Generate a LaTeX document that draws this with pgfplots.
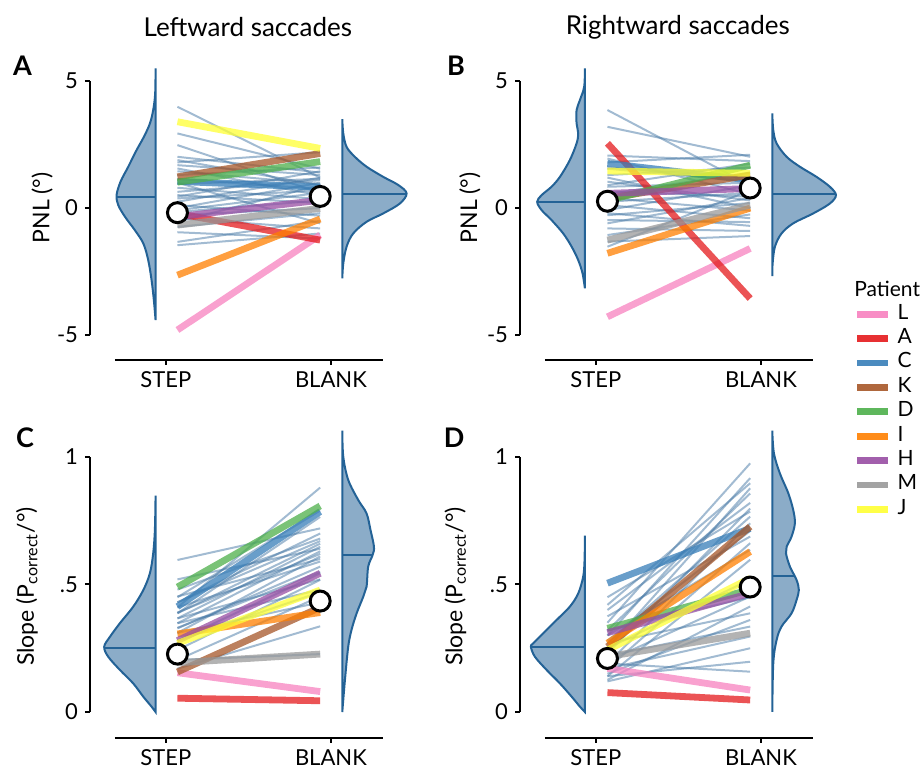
\documentclass[border=0pt]{standalone}
\usepackage{fontspec}
\setmainfont{Lato}
\usepackage{pgfplots}
\pgfplotsset{compat=1.18}
\definecolor{vfill}{RGB}{139,172,200}
\definecolor{vedge}{RGB}{35,98,150}
\definecolor{ctl}{RGB}{70,120,165}
\definecolor{cL}{HTML}{F781BF}
\definecolor{cA}{HTML}{E41A1C}
\definecolor{cC}{HTML}{377EB8}
\definecolor{cK}{HTML}{A65628}
\definecolor{cD}{HTML}{4DAF4A}
\definecolor{cI}{HTML}{FF7F00}
\definecolor{cH}{HTML}{984EA3}
\definecolor{cM}{HTML}{999999}
\definecolor{cJ}{HTML}{FFFF33}
\pgfplotsset{
 panel/.style={
   x=82.5pt, xmin=-0.46, xmax=1.5,
   axis x line=bottom, axis y line=left,
   axis line style={-, line width=1pt, black},
   x axis line style={shorten <=12.4pt, shorten >=15.3pt},
   xtick={0,1}, xticklabels={STEP,BLANK},
   tick align=outside, major tick length=2.5pt,
   tick style={black, line width=1pt},
   clip=false,
   ticklabel style={font=\fontsize{11}{13}\selectfont},
   /pgf/number format/assume math mode=true,
 },
 pnl/.style={y=12.7pt, ymin=-5.98, ymax=5.6, ytick={-5,0,5}, yticklabels={-5,0,5},
   y axis line style={shorten <=12.45pt, shorten >=7.62pt}, ylabel={PNL (°)}},
 slope/.style={y=127.5pt, ymin=-0.102, ymax=1.12, ytick={0,0.5,1}, yticklabels={0,.5,1},
   y axis line style={shorten <=13.0pt, shorten >=15.3pt}, ylabel={Slope (P\textsubscript{correct}/°)}},
 ylab/.style 2 args={every axis y label/.style={at={(axis description cs:#1,#2)}, rotate=90, anchor=center, font=\fontsize{11.5}{13}\selectfont}},
 ttl/.style={every axis title/.style={at={(axis description cs:0.488,1.132)}, anchor=center, font=\fontsize{13}{15}\selectfont}},
 tl/.style={ctl, opacity=0.5, line width=1pt, forget plot},
 pl/.style={line width=3.4pt, opacity=0.75},
 vio/.style={fill=vfill, draw=vedge, line width=1pt, smooth, tension=0.55, forget plot},
 med/.style={vedge, line width=1pt, forget plot},
 mn/.style={only marks, mark=*, mark size=5pt, mark options={fill=white, draw=black, line width=1.5pt}, forget plot},
}
\newcommand{\plet}[3]{\node[font=\bfseries\fontsize{13.5}{15}\selectfont, anchor=center] at (axis description cs:#1,#2) {#3};}
\begin{document}
\begin{tikzpicture}
\useasboundingbox (0,0) rectangle (461pt,385pt);
%%%%%%%%%%%%%%%% A
\begin{axis}[panel, pnl, ylab={-0.148}{0.517}, ttl, title={Leftward saccades}, at={(45pt,205pt)}, anchor=south west]
\addplot[tl] coordinates {(0.07,3.99) (0.935,1.20)};
\addplot[tl] coordinates {(0.07,2.94) (0.935,1.55)};
\addplot[tl] coordinates {(0.07,2.48) (0.935,0.60)};
\addplot[tl] coordinates {(0.07,2.02) (0.935,1.40)};
\addplot[tl] coordinates {(0.07,1.89) (0.935,0.90)};
\addplot[tl] coordinates {(0.07,1.69) (0.935,1.30)};
\addplot[tl] coordinates {(0.07,1.56) (0.935,0.50)};
\addplot[tl] coordinates {(0.07,1.30) (0.935,1.60)};
\addplot[tl] coordinates {(0.07,1.15) (0.935,0.75)};
\addplot[tl] coordinates {(0.07,0.95) (0.935,1.15)};
\addplot[tl] coordinates {(0.07,0.64) (0.935,1.10)};
\addplot[tl] coordinates {(0.07,0.51) (0.935,0.20)};
\addplot[tl] coordinates {(0.07,0.38) (0.935,0.70)};
\addplot[tl] coordinates {(0.07,0.25) (0.935,1.20)};
\addplot[tl] coordinates {(0.07,0.12) (0.935,-0.30)};
\addplot[tl] coordinates {(0.07,-0.08) (0.935,0.60)};
\addplot[tl] coordinates {(0.07,-0.28) (0.935,0.00)};
\addplot[tl] coordinates {(0.07,-0.54) (0.935,0.90)};
\addplot[tl] coordinates {(0.07,-0.74) (0.935,-0.20)};
\addplot[tl] coordinates {(0.07,-1.33) (0.935,-0.50)};
\addplot[tl] coordinates {(0.07,-1.46) (0.935,-1.00)};
\addplot[tl] coordinates {(0.07,0.80) (0.935,0.35)};
\addplot[tl] coordinates {(0.07,1.80) (0.935,2.20)};
\addplot[tl] coordinates {(0.07,-0.40) (0.935,-0.80)};
\addplot[tl] coordinates {(0.07,0.00) (0.935,1.00)};
\addplot[tl] coordinates {(0.07,1.00) (0.935,-0.60)};
\addplot[tl] coordinates {(0.07,0.45) (0.935,1.45)};
\addplot[tl] coordinates {(0.07,-0.15) (0.935,0.30)};
\addplot[tl] coordinates {(0.07,1.45) (0.935,0.95)};
\addplot[tl] coordinates {(0.07,-0.95) (0.935,-1.20)};
\addplot[vio] coordinates {(-0.0626,5.50) (-0.065,4.51) (-0.077,3.86) (-0.097,3.33) (-0.133,2.81) (-0.178,2.28) (-0.228,1.63) (-0.275,1.04) (-0.299,0.51) (-0.289,0.12) (-0.248,-0.34) (-0.188,-0.87) (-0.137,-1.39) (-0.107,-2.05) (-0.087,-2.83) (-0.073,-3.62) (-0.0626,-4.41)} -- cycle;
\addplot[med] coordinates {(-0.0626,0.45) (-0.298,0.45)};
\addplot[vio] coordinates {(1.069,3.50) (1.075,2.94) (1.095,2.41) (1.145,2.02) (1.216,1.63) (1.317,1.23) (1.408,0.91) (1.459,0.58) (1.418,0.18) (1.317,-0.21) (1.216,-0.54) (1.135,-1.00) (1.095,-1.52) (1.075,-2.18) (1.069,-2.77)} -- cycle;
\addplot[med] coordinates {(1.069,0.55) (1.457,0.55)};
\addplot[pl, cL] coordinates {(0.07,-4.80) (0.935,-1.06)};
\addplot[pl, cA] coordinates {(0.07,-0.21) (0.935,-1.26)};
\addplot[pl, cC] coordinates {(0.07,1.05) (0.935,0.82)};
\addplot[pl, cK] coordinates {(0.07,1.23) (0.935,2.15)};
\addplot[pl, cD] coordinates {(0.07,1.02) (0.935,1.83)};
\addplot[pl, cI] coordinates {(0.07,-2.64) (0.935,-0.43)};
\addplot[pl, cH] coordinates {(0.07,-0.34) (0.935,0.31)};
\addplot[pl, cM] coordinates {(0.07,-0.67) (0.935,-0.01)};
\addplot[pl, cJ] coordinates {(0.07,3.40) (0.935,2.35)};
\addplot[mn] coordinates {(0.07,-0.18) (0.935,0.46)};
\plet{-0.209}{0.999}{A}
\end{axis}
%%%%%%%%%%%%%%%% B
\begin{axis}[panel, pnl, ylab={-0.155}{0.517}, ttl, title={Rightward saccades}, at={(260pt,205pt)}, anchor=south west,
  legend style={draw=none, fill=none, at={(axis description cs:1.0325,0.197)}, anchor=north west, inner sep=0pt, outer sep=0pt, row sep=0pt, font=\fontsize{10.5}{12}\selectfont, nodes={inner xsep=3pt, inner ysep=0pt, text height=8.5pt, text depth=3.7pt}},
  legend cell align=left,
  legend image code/.code={\draw[#1, line width=3.4pt, opacity=0.9] (0pt,0pt) -- (15.5pt,0pt);}]
\addplot[tl] coordinates {(0.07,3.86) (0.935,0.90)};
\addplot[tl] coordinates {(0.07,3.20) (0.935,2.02)};
\addplot[tl] coordinates {(0.07,2.07) (0.935,1.85)};
\addplot[tl] coordinates {(0.07,1.95) (0.935,0.55)};
\addplot[tl] coordinates {(0.07,1.60) (0.935,1.20)};
\addplot[tl] coordinates {(0.07,1.30) (0.935,1.60)};
\addplot[tl] coordinates {(0.07,1.04) (0.935,0.30)};
\addplot[tl] coordinates {(0.07,0.84) (0.935,1.00)};
\addplot[tl] coordinates {(0.07,0.55) (0.935,1.40)};
\addplot[tl] coordinates {(0.07,0.25) (0.935,0.60)};
\addplot[tl] coordinates {(0.07,0.12) (0.935,-0.40)};
\addplot[tl] coordinates {(0.07,-0.08) (0.935,0.90)};
\addplot[tl] coordinates {(0.07,-0.28) (0.935,0.20)};
\addplot[tl] coordinates {(0.07,-0.47) (0.935,-0.55)};
\addplot[tl] coordinates {(0.07,-0.60) (0.935,0.40)};
\addplot[tl] coordinates {(0.07,-0.80) (0.935,-0.90)};
\addplot[tl] coordinates {(0.07,-1.06) (0.935,-0.25)};
\addplot[tl] coordinates {(0.07,-1.32) (0.935,-1.10)};
\addplot[tl] coordinates {(0.07,-1.52) (0.935,0.70)};
\addplot[tl] coordinates {(0.07,0.40) (0.935,-0.10)};
\addplot[tl] coordinates {(0.07,1.80) (0.935,2.10)};
\addplot[tl] coordinates {(0.07,0.90) (0.935,1.75)};
\addplot[tl] coordinates {(0.07,-0.20) (0.935,-0.70)};
\addplot[tl] coordinates {(0.07,1.20) (0.935,0.00)};
\addplot[tl] coordinates {(0.07,0.65) (0.935,0.45)};
\addplot[tl] coordinates {(0.07,1.55) (0.935,1.05)};
\addplot[vio] coordinates {(-0.0667,5.50) (-0.071,4.78) (-0.097,4.25) (-0.117,3.86) (-0.117,3.33) (-0.107,2.94) (-0.117,2.55) (-0.158,1.89) (-0.218,1.23) (-0.269,0.84) (-0.329,0.51) (-0.356,0.25) (-0.329,-0.08) (-0.269,-0.47) (-0.198,-1.00) (-0.147,-1.52) (-0.107,-2.05) (-0.081,-2.57) (-0.0667,-3.16)} -- cycle;
\addplot[med] coordinates {(-0.0667,0.24) (-0.356,0.24)};
\addplot[vio] coordinates {(1.069,3.73) (1.075,3.07) (1.095,2.55) (1.156,2.02) (1.236,1.63) (1.337,1.23) (1.418,0.84) (1.455,0.51) (1.418,0.18) (1.317,-0.21) (1.196,-0.60) (1.125,-1.00) (1.085,-1.52) (1.071,-2.18) (1.069,-2.68)} -- cycle;
\addplot[med] coordinates {(1.069,0.54) (1.455,0.54)};
\addplot[pl, cL] coordinates {(0.07,-4.28) (0.935,-1.59)};
\addplot[pl, cA] coordinates {(0.07,2.55) (0.935,-3.56)};
\addplot[pl, cC] coordinates {(0.07,1.76) (0.935,1.10)};
\addplot[pl, cK] coordinates {(0.07,0.38) (0.935,1.30)};
\addplot[pl, cD] coordinates {(0.07,0.30) (0.935,1.69)};
\addplot[pl, cI] coordinates {(0.07,-1.78) (0.935,0.00)};
\addplot[pl, cH] coordinates {(0.07,0.58) (0.935,0.77)};
\addplot[pl, cM] coordinates {(0.07,-1.26) (0.935,0.12)};
\addplot[pl, cJ] coordinates {(0.07,1.46) (0.935,1.37)};
\addplot[mn] coordinates {(0.07,0.27) (0.935,0.79)};
\legend{L,A,C,K,D,I,H,M,J}
\plet{-0.198}{0.999}{B}
\node[anchor=base west, inner sep=0pt, font=\fontsize{10.5}{12}\selectfont] at (axis description cs:1.0325,0.215) {Patient};
\end{axis}
%%%%%%%%%%%%%%%% C
\begin{axis}[panel, slope, ylab={-0.195}{0.486}, at={(45pt,16pt)}, anchor=south west]
\addplot[tl] coordinates {(0.07,0.596) (0.935,0.72)};
\addplot[tl] coordinates {(0.07,0.41) (0.935,0.88)};
\addplot[tl] coordinates {(0.07,0.45) (0.935,0.79)};
\addplot[tl] coordinates {(0.07,0.387) (0.935,0.765)};
\addplot[tl] coordinates {(0.07,0.48) (0.935,0.68)};
\addplot[tl] coordinates {(0.07,0.43) (0.935,0.67)};
\addplot[tl] coordinates {(0.07,0.367) (0.935,0.648)};
\addplot[tl] coordinates {(0.07,0.348) (0.935,0.63)};
\addplot[tl] coordinates {(0.07,0.31) (0.935,0.61)};
\addplot[tl] coordinates {(0.07,0.41) (0.935,0.59)};
\addplot[tl] coordinates {(0.07,0.328) (0.935,0.57)};
\addplot[tl] coordinates {(0.07,0.28) (0.935,0.544)};
\addplot[tl] coordinates {(0.07,0.243) (0.935,0.518)};
\addplot[tl] coordinates {(0.07,0.348) (0.935,0.48)};
\addplot[tl] coordinates {(0.07,0.204) (0.935,0.453)};
\addplot[tl] coordinates {(0.07,0.31) (0.935,0.43)};
\addplot[tl] coordinates {(0.07,0.17) (0.935,0.336)};
\addplot[tl] coordinates {(0.07,0.204) (0.935,0.227)};
\addplot[tl] coordinates {(0.07,0.453) (0.935,0.60)};
\addplot[tl] coordinates {(0.07,0.387) (0.935,0.66)};
\addplot[tl] coordinates {(0.07,0.367) (0.935,0.52)};
\addplot[tl] coordinates {(0.07,0.43) (0.935,0.70)};
\addplot[tl] coordinates {(0.07,0.28) (0.935,0.47)};
\addplot[tl] coordinates {(0.07,0.52) (0.935,0.64)};
\addplot[tl] coordinates {(0.07,0.33) (0.935,0.55)};
\addplot[tl] coordinates {(0.07,0.39) (0.935,0.62)};
\addplot[vio] coordinates {(-0.0626,0.848) (-0.0667,0.714) (-0.077,0.622) (-0.097,0.544) (-0.137,0.478) (-0.198,0.413) (-0.279,0.348) (-0.339,0.295) (-0.374,0.256) (-0.35,0.217) (-0.279,0.165) (-0.198,0.112) (-0.137,0.060) (-0.087,0.021) (-0.0626,0.0)} -- cycle;
\addplot[med] coordinates {(-0.0626,0.252) (-0.374,0.252)};
\addplot[vio] coordinates {(1.069,1.103) (1.075,1.001) (1.105,0.910) (1.166,0.831) (1.216,0.779) (1.24,0.714) (1.261,0.648) (1.253,0.616) (1.226,0.570) (1.216,0.491) (1.196,0.452) (1.156,0.387) (1.125,0.322) (1.105,0.256) (1.085,0.125) (1.069,0.0)} -- cycle;
\addplot[med] coordinates {(1.069,0.615) (1.253,0.615)};
\addplot[pl, cL] coordinates {(0.07,0.154) (0.935,0.080)};
\addplot[pl, cA] coordinates {(0.07,0.054) (0.935,0.044)};
\addplot[pl, cC] coordinates {(0.07,0.413) (0.935,0.786)};
\addplot[pl, cK] coordinates {(0.07,0.157) (0.935,0.41)};
\addplot[pl, cD] coordinates {(0.07,0.49) (0.935,0.808)};
\addplot[pl, cI] coordinates {(0.07,0.306) (0.935,0.39)};
\addplot[pl, cH] coordinates {(0.07,0.28) (0.935,0.544)};
\addplot[pl, cM] coordinates {(0.07,0.193) (0.935,0.227)};
\addplot[pl, cJ] coordinates {(0.07,0.269) (0.935,0.478)};
\addplot[mn] coordinates {(0.07,0.227) (0.935,0.435)};
\plet{-0.201}{0.963}{C}
\end{axis}
%%%%%%%%%%%%%%%% D
\begin{axis}[panel, slope, ylab={-0.2}{0.486}, at={(260pt,16pt)}, anchor=south west]
\addplot[tl] coordinates {(0.07,0.35) (0.935,0.975)};
\addplot[tl] coordinates {(0.07,0.30) (0.935,0.917)};
\addplot[tl] coordinates {(0.07,0.42) (0.935,0.897)};
\addplot[tl] coordinates {(0.07,0.25) (0.935,0.877)};
\addplot[tl] coordinates {(0.07,0.32) (0.935,0.857)};
\addplot[tl] coordinates {(0.07,0.23) (0.935,0.798)};
\addplot[tl] coordinates {(0.07,0.45) (0.935,0.786)};
\addplot[tl] coordinates {(0.07,0.27) (0.935,0.766)};
\addplot[tl] coordinates {(0.07,0.19) (0.935,0.74)};
\addplot[tl] coordinates {(0.07,0.375) (0.935,0.688)};
\addplot[tl] coordinates {(0.07,0.17) (0.935,0.662)};
\addplot[tl] coordinates {(0.07,0.30) (0.935,0.636)};
\addplot[tl] coordinates {(0.07,0.14) (0.935,0.597)};
\addplot[tl] coordinates {(0.07,0.25) (0.935,0.519)};
\addplot[tl] coordinates {(0.07,0.20) (0.935,0.453)};
\addplot[tl] coordinates {(0.07,0.126) (0.935,0.414)};
\addplot[tl] coordinates {(0.07,0.27) (0.935,0.387)};
\addplot[tl] coordinates {(0.07,0.15) (0.935,0.361)};
\addplot[tl] coordinates {(0.07,0.22) (0.935,0.335)};
\addplot[tl] coordinates {(0.07,0.17) (0.935,0.296)};
\addplot[tl] coordinates {(0.07,0.14) (0.935,0.197)};
\addplot[tl] coordinates {(0.07,0.19) (0.935,0.158)};
\addplot[tl] coordinates {(0.07,0.12) (0.935,0.25)};
\addplot[tl] coordinates {(0.07,0.32) (0.935,0.45)};
\addplot[tl] coordinates {(0.07,0.40) (0.935,0.82)};
\addplot[tl] coordinates {(0.07,0.28) (0.935,0.71)};
\addplot[vio] coordinates {(-0.0667,0.692) (-0.0687,0.596) (-0.077,0.531) (-0.107,0.465) (-0.158,0.413) (-0.238,0.361) (-0.319,0.309) (-0.380,0.269) (-0.394,0.256) (-0.370,0.217) (-0.299,0.165) (-0.218,0.112) (-0.147,0.060) (-0.097,0.021) (-0.0667,0.0)} -- cycle;
\addplot[med] coordinates {(-0.0667,0.255) (-0.394,0.255)};
\addplot[vio] coordinates {(1.069,1.103) (1.079,1.014) (1.115,0.936) (1.166,0.858) (1.196,0.792) (1.206,0.740) (1.186,0.688) (1.156,0.648) (1.152,0.622) (1.176,0.570) (1.216,0.518) (1.230,0.478) (1.216,0.439) (1.186,0.387) (1.125,0.335) (1.095,0.282) (1.075,0.191) (1.069,0.0)} -- cycle;
\addplot[med] coordinates {(1.069,0.533) (1.205,0.533)};
\addplot[pl, cL] coordinates {(0.07,0.171) (0.935,0.086)};
\addplot[pl, cA] coordinates {(0.07,0.076) (0.935,0.047)};
\addplot[pl, cC] coordinates {(0.07,0.505) (0.935,0.72)};
\addplot[pl, cK] coordinates {(0.07,0.256) (0.935,0.727)};
\addplot[pl, cD] coordinates {(0.07,0.328) (0.935,0.48)};
\addplot[pl, cI] coordinates {(0.07,0.27) (0.935,0.629)};
\addplot[pl, cH] coordinates {(0.07,0.311) (0.935,0.465)};
\addplot[pl, cM] coordinates {(0.07,0.217) (0.935,0.309)};
\addplot[pl, cJ] coordinates {(0.07,0.243) (0.935,0.524)};
\addplot[mn] coordinates {(0.07,0.21) (0.935,0.49)};
\plet{-0.204}{0.963}{D}
\end{axis}
\end{tikzpicture}
\end{document}
